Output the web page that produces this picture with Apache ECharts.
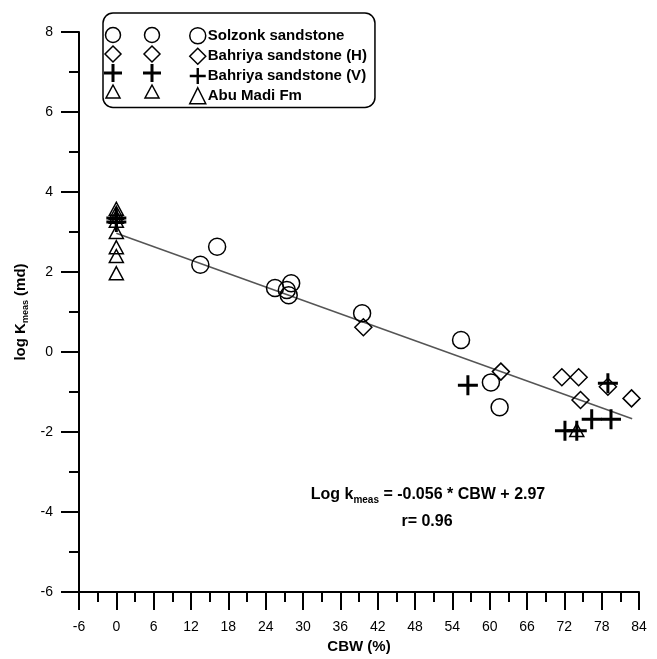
<!DOCTYPE html>
<html>
<head>
<meta charset="utf-8">
<title>log Kmeas vs CBW</title>
<script src="https://cdn.jsdelivr.net/npm/echarts@6/dist/echarts.min.js"></script>
<style>
  html, body {
    margin: 0;
    padding: 0;
    background: #ffffff;
  }
  #chart {
    width: 657px;
    height: 659px;
  }
</style>
</head>
<body>
<div id="chart"></div>
<script>
// [CBW %, log Kmeas]
const solzonk = [
  [13.5, 2.18], [16.2, 2.63], [25.5, 1.6], [27.4, 1.55], [28.1, 1.72], [27.7, 1.42],
  [39.5, 0.97], [55.4, 0.3], [60.2, -0.76], [61.6, -1.38]
]
const bahriyaH = [
  [39.7, 0.62], [61.8, -0.49], [71.6, -0.63], [74.3, -0.63], [74.6, -1.2],
  [79.0, -0.87], [82.8, -1.16]
]
const bahriyaV = [
  [0, 3.35], [0, 3.25], [56.5, -0.83], [79.0, -0.78], [76.4, -1.68], [79.5, -1.68],
  [72.1, -1.97], [74.0, -1.97]
]
const abuMadi = [
  [0, 3.58], [0, 3.48], [0, 3.38], [0, 3.28], [0, 3.0], [0, 2.62], [0, 2.4], [0, 1.97],
  [74.0, -1.95]
]
// fitted line, Log k = -0.056 * CBW + 2.97
const fitLine = [[0, 2.97], [82.9, -1.67]]

const seriesNames = ['Solzonk sandstone', 'Bahriya sandstone (H)', 'Bahriya sandstone (V)', 'Abu Madi Fm']

const PLUS = 'path://M8.5,0H11.5V8.5H20V11.5H11.5V20H8.5V11.5H0V8.5H8.5Z'
const FONT = 'Liberation Sans, Arial, sans-serif'

const chart = echarts.init(document.getElementById('chart'), null, {renderer: 'canvas'})

const openMark = {
  color: 'transparent',
  borderColor: '#000000',
  borderWidth: 1.5,
  opacity: 1
}

// the two extra symbol columns drawn inside the legend box
const legendRows = [35, 54, 73, 92]
const extraCols = [113, 152]
const legendExtras = []
extraCols.forEach((cx) => {
  legendExtras.push({
    type: 'circle',
    z: 100,
    shape: {cx: cx, cy: legendRows[0], r: 7.5},
    style: {fill: 'none', stroke: '#000', lineWidth: 1.5}
  })
  const dy = legendRows[1]
  legendExtras.push({
    type: 'polygon',
    z: 100,
    shape: {points: [[cx, dy - 8], [cx + 8, dy], [cx, dy + 8], [cx - 8, dy]]},
    style: {fill: 'none', stroke: '#000', lineWidth: 1.5}
  })
  const py = legendRows[2]
  legendExtras.push({
    type: 'polygon',
    z: 100,
    shape: {
      points: [[cx - 1.5, py - 9], [cx + 1.5, py - 9], [cx + 1.5, py - 1.5], [cx + 9, py - 1.5],
        [cx + 9, py + 1.5], [cx + 1.5, py + 1.5], [cx + 1.5, py + 9], [cx - 1.5, py + 9],
        [cx - 1.5, py + 1.5], [cx - 9, py + 1.5], [cx - 9, py - 1.5], [cx - 1.5, py - 1.5]]
    },
    style: {fill: '#000'}
  })
  const ty = legendRows[3]
  legendExtras.push({
    type: 'polygon',
    z: 100,
    shape: {points: [[cx, ty - 7], [cx + 7, ty + 6], [cx - 7, ty + 6]]},
    style: {fill: 'none', stroke: '#000', lineWidth: 1.5}
  })
})

const option = {
  backgroundColor: '#ffffff',
  animation: false,
  textStyle: {
    fontFamily: FONT
  },
  grid: {
    left: 79,
    right: 18,
    top: 32,
    bottom: 67
  },
  legend: {
    orient: 'vertical',
    left: 103,
    top: 13,
    padding: [14, 8, 3, 86],
    itemWidth: 16,
    itemHeight: 16,
    itemGap: 3,
    borderColor: '#000000',
    borderWidth: 1.5,
    borderRadius: 10,
    backgroundColor: '#ffffff',
    itemStyle: {
      borderWidth: 1.5
    },
    textStyle: {
      fontFamily: FONT,
      fontSize: 15,
      lineHeight: 16,
      fontWeight: 'bold',
      color: '#000000',
      padding: [0, 0, 0, -3]
    },
    data: seriesNames
  },
  xAxis: {
    type: 'value',
    min: -6,
    max: 84,
    interval: 6,
    name: 'CBW (%)',
    nameLocation: 'middle',
    nameGap: 45,
    nameTextStyle: {
      fontFamily: FONT,
      fontSize: 15,
      fontWeight: 'bold',
      color: '#000000'
    },
    axisLine: {
      onZero: false,
      lineStyle: {color: '#000000', width: 2}
    },
    axisTick: {
      length: 18,
      lineStyle: {color: '#000000', width: 2}
    },
    minorTick: {
      show: true,
      splitNumber: 2,
      length: 10,
      lineStyle: {color: '#000000', width: 2}
    },
    axisLabel: {
      margin: 28,
      fontFamily: FONT,
      fontSize: 14,
      color: '#000000'
    },
    splitLine: {show: false}
  },
  yAxis: {
    type: 'value',
    min: -6,
    max: 8,
    interval: 2,
    name: '{a|log K}{s|meas}{a| (md)}',
    nameLocation: 'middle',
    nameGap: 45,
    nameTextStyle: {
      rich: {
        a: {fontFamily: FONT, fontSize: 15, fontWeight: 'bold', color: '#000000', lineHeight: 18},
        s: {fontFamily: FONT, fontSize: 9, fontWeight: 'bold', color: '#000000', lineHeight: 18, verticalAlign: 'bottom', padding: [6, 0, 0, 0]}
      }
    },
    axisLine: {
      onZero: false,
      lineStyle: {color: '#000000', width: 2}
    },
    axisTick: {
      length: 18,
      lineStyle: {color: '#000000', width: 2}
    },
    minorTick: {
      show: true,
      splitNumber: 2,
      length: 10,
      lineStyle: {color: '#000000', width: 2}
    },
    axisLabel: {
      margin: 26,
      fontFamily: FONT,
      fontSize: 14,
      color: '#000000'
    },
    splitLine: {show: false}
  },
  graphic: legendExtras.concat([
    {
      type: 'text',
      x: 428,
      y: 495,
      z: 10,
      style: {
        text: '{a|Log k}{s|meas}{a| = -0.056 * CBW + 2.97}',
        align: 'center',
        verticalAlign: 'middle',
        rich: {
          a: {fontFamily: FONT, fontSize: 16, fontWeight: 'bold', fill: '#000000', lineHeight: 20},
          s: {fontFamily: FONT, fontSize: 10, fontWeight: 'bold', fill: '#000000', lineHeight: 20, verticalAlign: 'bottom', padding: [7, 0, 0, 0]}
        }
      }
    },
    {
      type: 'text',
      x: 427,
      y: 522,
      z: 10,
      style: {
        text: 'r= 0.96',
        align: 'center',
        verticalAlign: 'middle',
        font: 'bold 16px ' + FONT,
        fill: '#000000'
      }
    }
  ]),
  series: [
    {
      name: 'fit',
      type: 'line',
      data: fitLine,
      showSymbol: false,
      symbol: 'none',
      lineStyle: {color: '#555555', width: 1.5},
      z: 1
    },
    {
      name: seriesNames[0],
      type: 'scatter',
      data: solzonk,
      symbol: 'circle',
      symbolSize: 17,
      itemStyle: openMark,
      z: 3
    },
    {
      name: seriesNames[1],
      type: 'scatter',
      data: bahriyaH,
      symbol: 'diamond',
      symbolSize: 17,
      itemStyle: openMark,
      z: 3
    },
    {
      name: seriesNames[2],
      type: 'scatter',
      data: bahriyaV,
      symbol: PLUS,
      symbolSize: 20,
      itemStyle: {color: '#000000', opacity: 1},
      z: 3
    },
    {
      name: seriesNames[3],
      type: 'scatter',
      data: abuMadi,
      symbol: 'triangle',
      symbolSize: [14, 13],
      itemStyle: openMark,
      z: 3
    }
  ]
}

chart.setOption(option)
</script>
</body>
</html>
